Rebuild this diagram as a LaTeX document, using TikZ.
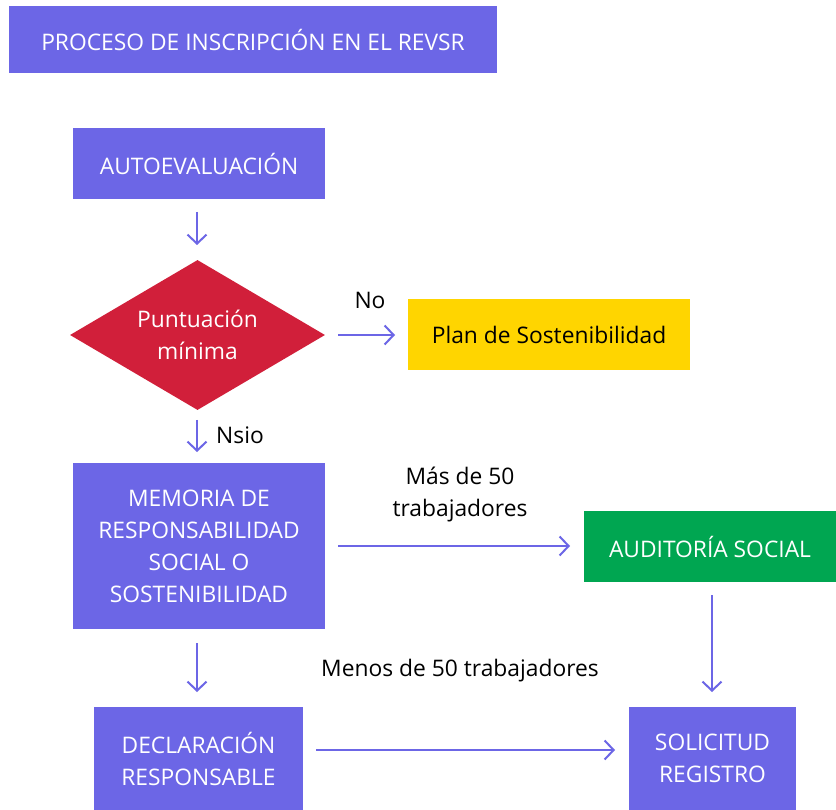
\documentclass[tikz,border=0pt]{standalone}
\usepackage{fontspec}
\setmainfont{Open Sans}
\usetikzlibrary{shapes.geometric,arrows.meta}
\definecolor{pblue}{HTML}{6C66E6}
\definecolor{pred}{HTML}{D11F3A}
\definecolor{pyellow}{HTML}{FFD500}
\definecolor{pgreen}{HTML}{00A651}
\tikzset{
  box/.style={rectangle, fill=pblue, text=white, inner sep=0pt, align=center,
    font=\fontsize{22.8}{32}\selectfont},
  lbl/.style={text=black, inner sep=0pt, align=center, font=\fontsize{22.8}{32}\selectfont},
  conn/.style={draw=pblue, line width=2pt, -{Straight Barb[length=9pt,width=19pt,line width=2pt]}}
}
\begin{document}
\begin{tikzpicture}[x=1pt,y=-1pt]
\useasboundingbox[fill=white] (0,0) rectangle (836,810);
\node[box, minimum width=488pt, minimum height=67pt] (title) at (253,39.5) {PROCESO DE INSCRIPCIÓN EN EL REVSR};
\node[box, minimum width=252pt, minimum height=71pt] (auto) at (199,163.5) {AUTOEVALUACIÓN};
\node[diamond, fill=pred, text=white, inner sep=0pt, aspect=1.7, align=center,
  minimum width=255pt, minimum height=150pt, font=\fontsize{22.8}{32}\selectfont] (dec) at (197.5,335) {Puntuación\\mínima};
\node[box, fill=pyellow, text=black, minimum width=282pt, minimum height=71pt] (plan) at (549,334.5) {Plan de Sostenibilidad};
\node[box, minimum width=252pt, minimum height=166pt] (mem) at (199,546) {MEMORIA DE\\RESPONSABILIDAD\\SOCIAL O\\SOSTENIBILIDAD};
\node[box, fill=pgreen, minimum width=252pt, minimum height=71pt] (aud) at (710,546.5) {AUDITORÍA SOCIAL};
\node[box, minimum width=209pt, minimum height=103pt] (decl) at (198.5,758.5) {DECLARACIÓN\\RESPONSABLE};
\node[box, minimum width=167pt, minimum height=103pt] (sol) at (712.5,758.5) {SOLICITUD\\REGISTRO};

\node[lbl] (lno) at (370,300) {No};
\node[lbl] (lsi) at (240,435) {Nsio};
\node[lbl] (lmas) at (460,495) {Más de 50\\trabajadores};
\node[lbl] (lmen) at (460,671) {Menos de 50 trabajadores};

\coordinate (a1s) at (197,212); \coordinate (a1e) at (197,245);
\coordinate (a2s) at (338,335); \coordinate (a2e) at (395,335);
\coordinate (a3s) at (197,420); \coordinate (a3e) at (197,452);
\coordinate (a4s) at (338,546); \coordinate (a4e) at (570,546);
\coordinate (a5s) at (712,595); \coordinate (a5e) at (712,692);
\coordinate (a6s) at (197,643); \coordinate (a6e) at (197,692);
\coordinate (a7s) at (316,750); \coordinate (a7e) at (615,750);
\draw[conn] (a1s) -- (a1e);
\draw[conn] (a2s) -- (a2e);
\draw[conn] (a3s) -- (a3e);
\draw[conn] (a4s) -- (a4e);
\draw[conn] (a5s) -- (a5e);
\draw[conn] (a6s) -- (a6e);
\draw[conn] (a7s) -- (a7e);
\end{tikzpicture}
\end{document}
